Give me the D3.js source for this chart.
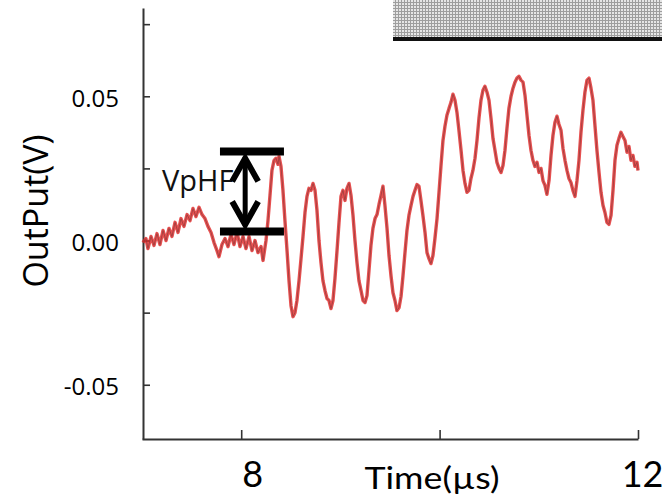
<!DOCTYPE html>
<html>
<head>
<meta charset="utf-8">
<script src="https://cdn.jsdelivr.net/npm/d3@7"></script>
<style>
  html, body { margin: 0; padding: 0; background: #fff; }
  svg { display: block; }
</style>
</head>
<body>
<svg id="chart" width="662" height="502"></svg>
<script>
// ---- data ----
const timeUs = [7.010,7.040,7.060,7.091,7.121,7.151,7.181,7.212,7.242,7.272,7.302,7.333,7.363,7.393,7.423,7.454,7.484,7.514,7.544,7.575,7.605,7.635,7.665,7.696,7.726,7.756,7.776,7.806,7.837,7.867,7.897,7.927,7.958,7.988,8.018,8.048,8.079,8.109,8.139,8.169,8.200,8.220,8.250,8.270,8.290,8.310,8.331,8.351,8.371,8.381,8.401,8.421,8.441,8.462,8.482,8.502,8.522,8.542,8.562,8.583,8.603,8.623,8.643,8.663,8.683,8.704,8.724,8.744,8.764,8.784,8.804,8.824,8.845,8.865,8.885,8.905,8.925,8.945,8.966,8.986,9.006,9.026,9.046,9.066,9.087,9.107,9.127,9.147,9.167,9.187,9.208,9.228,9.248,9.268,9.288,9.308,9.328,9.349,9.369,9.389,9.409,9.429,9.449,9.470,9.490,9.510,9.530,9.550,9.570,9.591,9.611,9.631,9.651,9.671,9.691,9.712,9.732,9.752,9.772,9.792,9.812,9.832,9.853,9.873,9.893,9.913,9.933,9.953,9.974,9.994,10.014,10.034,10.054,10.074,10.095,10.115,10.135,10.155,10.175,10.195,10.216,10.236,10.256,10.276,10.296,10.316,10.336,10.357,10.377,10.397,10.417,10.437,10.457,10.478,10.498,10.518,10.538,10.558,10.578,10.599,10.619,10.639,10.659,10.679,10.699,10.720,10.740,10.760,10.780,10.800,10.820,10.841,10.861,10.881,10.901,10.921,10.941,10.961,10.982,11.002,11.022,11.042,11.062,11.082,11.103,11.123,11.143,11.163,11.183,11.203,11.224,11.244,11.264,11.284,11.304,11.324,11.344,11.365,11.385,11.405,11.425,11.445,11.465,11.486,11.506,11.526,11.546,11.566,11.586,11.607,11.627,11.647,11.667,11.687,11.707,11.728,11.748,11.768,11.788,11.808,11.828,11.848,11.869,11.889,11.909,11.929,11.949,11.969,11.990,12.000];
const outputV = [-0.0007,0.0007,-0.0028,0.0014,-0.0017,0.0024,-0.0014,0.0035,0.0000,0.0042,0.0014,0.0063,0.0028,0.0076,0.0049,0.0090,0.0069,0.0111,0.0083,0.0115,0.0090,0.0076,0.0049,0.0028,-0.0007,-0.0035,-0.0056,-0.0014,0.0007,-0.0021,0.0021,-0.0014,0.0028,-0.0021,0.0014,-0.0028,0.0014,-0.0035,0.0000,-0.0042,-0.0021,-0.0069,0.0000,0.0069,0.0156,0.0243,0.0278,0.0285,0.0264,0.0292,0.0257,0.0174,0.0069,-0.0035,-0.0139,-0.0226,-0.0264,-0.0250,-0.0208,-0.0139,-0.0063,0.0014,0.0097,0.0153,0.0181,0.0174,0.0198,0.0174,0.0104,0.0000,-0.0076,-0.0139,-0.0174,-0.0201,-0.0208,-0.0236,-0.0208,-0.0132,-0.0035,0.0063,0.0153,0.0174,0.0139,0.0181,0.0198,0.0156,0.0087,0.0000,-0.0076,-0.0139,-0.0174,-0.0208,-0.0215,-0.0191,-0.0104,-0.0017,0.0042,0.0076,0.0090,0.0125,0.0156,0.0188,0.0122,0.0042,-0.0052,-0.0122,-0.0181,-0.0208,-0.0243,-0.0233,-0.0194,-0.0122,-0.0042,0.0035,0.0087,0.0122,0.0153,0.0174,0.0194,0.0188,0.0139,0.0087,0.0028,-0.0042,-0.0063,-0.0080,-0.0052,0.0007,0.0076,0.0167,0.0260,0.0347,0.0396,0.0434,0.0458,0.0479,0.0507,0.0486,0.0444,0.0382,0.0313,0.0243,0.0198,0.0167,0.0174,0.0215,0.0243,0.0285,0.0347,0.0424,0.0486,0.0521,0.0535,0.0514,0.0486,0.0424,0.0354,0.0313,0.0271,0.0250,0.0236,0.0260,0.0313,0.0389,0.0458,0.0500,0.0528,0.0549,0.0563,0.0569,0.0556,0.0549,0.0503,0.0434,0.0365,0.0313,0.0278,0.0257,0.0271,0.0236,0.0250,0.0208,0.0191,0.0160,0.0208,0.0295,0.0365,0.0410,0.0431,0.0403,0.0382,0.0319,0.0278,0.0243,0.0215,0.0201,0.0174,0.0153,0.0208,0.0278,0.0375,0.0451,0.0514,0.0556,0.0563,0.0528,0.0486,0.0399,0.0313,0.0236,0.0167,0.0122,0.0097,0.0063,0.0056,0.0087,0.0174,0.0278,0.0330,0.0354,0.0375,0.0361,0.0347,0.0306,0.0326,0.0278,0.0295,0.0257,0.0271,0.0243];

const xDomain = [7, 12];
const yDomain = [-0.0688, 0.0806];
const xTicks = [8, 10, 12];
const xTickLabels = [8, 12];
const yTicks = [-0.05, -0.025, 0, 0.025, 0.05, 0.075];
const yTickLabels = [-0.05, 0, 0.05];
const xTitle = "Time(µs)";
const yTitle = "OutPut(V)";
// VpHF annotation (time span of the bars, and the two voltage levels)
const vphfLabel = "VpHF";
const vphfTime = [7.786, 8.431];
const vphfArrowTime = 8.04;
const vphfLevels = [0.0031, 0.0309];

// ---- layout ----
const svg = d3.select("#chart");
const x = d3.scaleLinear().domain(xDomain).range([142, 638]);
const y = d3.scaleLinear().domain(yDomain).range([439, 8]);

// decorative hatched box at top-right
const defs = svg.append("defs");
const pat = defs.append("pattern").attr("id", "hatch").attr("patternUnits", "userSpaceOnUse")
  .attr("width", 3).attr("height", 3);
pat.append("rect").attr("width", 3).attr("height", 3).attr("fill", "#9e9e9e");
pat.append("rect").attr("width", 2).attr("height", 2).attr("fill", "#e6e6e6");
svg.append("rect").attr("x", 393).attr("y", 0).attr("width", 269).attr("height", 37).attr("fill", "url(#hatch)");
svg.append("rect").attr("x", 393).attr("y", 37).attr("width", 269).attr("height", 4).attr("fill", "#111");

// axes
const fmtY = d => yTickLabels.some(v => Math.abs(v - d) < 1e-9) ? d3.format(".2f")(d).replace("−", "-") : "";
const yAxis = svg.append("g").attr("transform", "translate(143,0)")
  .call(d3.axisLeft(y).tickValues(yTicks).tickSizeInner(-7).tickSizeOuter(0).tickFormat(fmtY));
yAxis.select(".domain").attr("stroke", "#333").attr("stroke-width", 2);
yAxis.selectAll(".tick line").attr("stroke", "#333").attr("stroke-width", 1.6);
yAxis.selectAll(".tick text").attr("x", -24).attr("dy", "0.42em")
  .attr("font-family", "'Open Sans', sans-serif").attr("font-size", 24).attr("fill", "#000");

const xAxis = svg.append("g").attr("transform", "translate(0,439)")
  .call(d3.axisBottom(x).tickValues(xTicks).tickSizeInner(-9).tickSizeOuter(0)
    .tickFormat(d => xTickLabels.includes(d) ? String(d) : ""));
xAxis.select(".domain").attr("stroke", "#333").attr("stroke-width", 2);
xAxis.selectAll(".tick line").attr("stroke", "#333").attr("stroke-width", 1.6);
xAxis.selectAll(".tick text").attr("y", 48).attr("dy", 0)
  .attr("dx", d => d === 8 ? 11 : 4)
  .attr("font-family", "Lato, sans-serif").attr("font-size", 36).attr("fill", "#000");

// titles
svg.append("text").attr("x", 432).attr("y", 489).attr("text-anchor", "middle")
  .attr("font-family", "Lato, sans-serif").attr("font-size", 30)
  .attr("textLength", 135).attr("lengthAdjust", "spacingAndGlyphs").text(xTitle);
svg.append("text").attr("transform", "translate(48,211) rotate(-90)").attr("text-anchor", "middle")
  .attr("font-family", "'Open Sans', sans-serif").attr("font-size", 34).text(yTitle);

// waveform
const pts = timeUs.map((t, i) => [t, outputV[i]]);
const line = d3.line().x(d => x(d[0])).y(d => y(d[1]));
svg.append("path").datum(pts).attr("d", line).attr("fill", "none")
  .attr("stroke", "#e02424").attr("stroke-width", 3.4).attr("stroke-opacity", 0.8).attr("stroke-linejoin", "round");
svg.append("path").datum(pts).attr("d", line).attr("fill", "none")
  .attr("stroke", "#8e3a3a").attr("stroke-width", 1).attr("stroke-opacity", 0.7).attr("stroke-linejoin", "round");

// VpHF annotation
svg.append("text").attr("x", 162).attr("y", 191)
  .attr("font-family", "'Open Sans', sans-serif").attr("font-size", 29).attr("fill", "#111").text(vphfLabel);
const ann = svg.append("g").attr("stroke", "#000").attr("fill", "none");
vphfLevels.forEach(v => {
  ann.append("line").attr("x1", x(vphfTime[0])).attr("x2", x(vphfTime[1]))
    .attr("y1", y(v)).attr("y2", y(v)).attr("stroke-width", 8);
});
const ax = x(vphfArrowTime), yTop = y(vphfLevels[1]), yBot = y(vphfLevels[0]);
ann.append("line").attr("x1", ax).attr("x2", ax).attr("y1", yTop + 6).attr("y2", yBot - 6).attr("stroke-width", 5);
ann.append("polyline").attr("points", `${ax-13},${yTop+30} ${ax},${yTop+7} ${ax+13},${yTop+30}`)
  .attr("stroke-width", 6).attr("stroke-linejoin", "miter");
ann.append("polyline").attr("points", `${ax-13},${yBot-30} ${ax},${yBot-7} ${ax+13},${yBot-30}`)
  .attr("stroke-width", 6).attr("stroke-linejoin", "miter");
</script>
</body>
</html>
